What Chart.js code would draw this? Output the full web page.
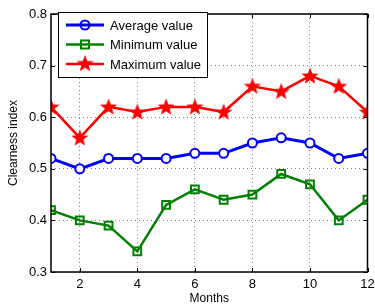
<!DOCTYPE html>
<html lang="en">
<head>
	<title>Clearness index by month</title>
	<meta charset="utf-8">
	<script src="https://cdn.jsdelivr.net/npm/chart.js@4.4.1/dist/chart.umd.min.js"></script>
	<style type="text/css">
		html, body { margin: 0; padding: 0; background: #fff; }
		#wrap { width: 375px; height: 308px; }
	</style>
</head>
<body>
<div id="wrap"><canvas id="ci-canvas" width="375" height="308"></canvas></div>
<script type="text/javascript">
	// data
	var months = [1, 2, 3, 4, 5, 6, 7, 8, 9, 10, 11, 12];
	var avgValues = [0.52, 0.50, 0.52, 0.52, 0.52, 0.53, 0.53, 0.55, 0.56, 0.55, 0.52, 0.53];
	var minValues = [0.42, 0.40, 0.39, 0.34, 0.43, 0.46, 0.44, 0.45, 0.49, 0.47, 0.40, 0.44];
	var maxValues = [0.62, 0.56, 0.62, 0.61, 0.62, 0.62, 0.61, 0.66, 0.65, 0.68, 0.66, 0.61];
	var xTicks = [2, 4, 6, 8, 10, 12];
	var yTicks = [0.3, 0.4, 0.5, 0.6, 0.7, 0.8];
	var seriesNames = ["Average value", "Minimum value", "Maximum value"];

	var FONT = "'Liberation Sans', Arial, sans-serif";

	// filled five point star used as marker (matlab pentagram)
	function makeStar(size, color) {
		var c = document.createElement("canvas");
		c.width = size; c.height = size;
		var g = c.getContext("2d");
		var cx = size / 2, cy = size / 2 + 0.5, R = size / 2, r = R * 0.42;
		g.beginPath();
		for (var i = 0; i < 10; i++) {
			var rad = (i % 2 == 0) ? R : r;
			var a = -Math.PI / 2 + i * Math.PI / 5;
			var px = cx + rad * Math.cos(a), py = cy + rad * Math.sin(a);
			if (i == 0) g.moveTo(px, py); else g.lineTo(px, py);
		}
		g.closePath();
		g.fillStyle = color;
		g.fill();
		return c;
	}
	var starImg = makeStar(18, "#ff0000");

	function toXY(vals) {
		return vals.map(function(v, i) { return {x: months[i], y: v}; });
	}

	// box, inner ticks and legend like the matlab figure
	var matlabFrame = {
		id: "matlabFrame",
		afterDatasetsDraw: function(chart) {
			var ctx = chart.ctx, a = chart.chartArea;
			var xs = chart.scales.x, ys = chart.scales.y;
			ctx.save();
			ctx.strokeStyle = "#000";
			ctx.lineWidth = 1;
			ctx.beginPath();
			xTicks.forEach(function(t) {
				var px = Math.round(xs.getPixelForValue(t)) + 0.5;
				ctx.moveTo(px, a.bottom); ctx.lineTo(px, a.bottom - 4);
				ctx.moveTo(px, a.top); ctx.lineTo(px, a.top + 4);
			});
			yTicks.forEach(function(t) {
				var py = Math.round(ys.getPixelForValue(t)) + 0.5;
				ctx.moveTo(a.left, py); ctx.lineTo(a.left + 4, py);
				ctx.moveTo(a.right, py); ctx.lineTo(a.right - 4, py);
			});
			ctx.stroke();
			ctx.lineWidth = 1.5;
			ctx.strokeRect(a.left, a.top, a.right - a.left, a.bottom - a.top);

			// legend
			var lx = 58, ly = 12, lw = 149, lh = 65;
			ctx.fillStyle = "#fff";
			ctx.fillRect(lx, ly, lw, lh);
			ctx.lineWidth = 1;
			ctx.strokeRect(lx + 0.5, ly + 0.5, lw, lh);
			ctx.font = "13px " + FONT;
			ctx.textBaseline = "middle";
			chart.data.datasets.forEach(function(ds, i) {
				var y = ly + 13 + i * 19.5;
				ctx.strokeStyle = ds.borderColor;
				ctx.lineWidth = ds.borderWidth;
				ctx.beginPath();
				ctx.moveTo(lx + 8, y); ctx.lineTo(lx + 46, y);
				ctx.stroke();
				var mx = lx + 27;
				ctx.lineWidth = 2;
				if (ds.pointStyle == "circle") {
					ctx.beginPath(); ctx.arc(mx, y, 4.5, 0, Math.PI * 2); ctx.stroke();
				} else if (ds.pointStyle == "rect") {
					ctx.strokeRect(mx - 4, y - 4, 8, 8);
				} else {
					ctx.drawImage(ds.pointStyle, mx - 9, y - 9.5);
				}
				ctx.fillStyle = "#000";
				ctx.fillText(ds.label, lx + 52, y + 1);
			});
			ctx.restore();
		}
	};

	var ctx = document.querySelector("#ci-canvas").getContext("2d");
	new Chart(ctx, {
		type: "line",
		data: {
			datasets: [{
				label: seriesNames[0],
				data: toXY(avgValues),
				borderColor: "#0000ff",
				backgroundColor: "#fff",
				borderWidth: 3,
				pointStyle: "circle",
				pointRadius: 4.5,
				pointBorderWidth: 2,
				tension: 0
			}, {
				label: seriesNames[1],
				data: toXY(minValues),
				borderColor: "#008000",
				backgroundColor: "rgba(0,0,0,0)",
				borderWidth: 2.5,
				pointStyle: "rect",
				pointRadius: 5.5,
				pointBorderWidth: 2,
				tension: 0
			}, {
				label: seriesNames[2],
				data: toXY(maxValues),
				borderColor: "#ff0000",
				backgroundColor: "#ff0000",
				borderWidth: 2.5,
				pointStyle: starImg,
				tension: 0
			}]
		},
		options: {
			responsive: false,
			animation: false,
			layout: { padding: { top: 14, right: 5, bottom: 0, left: 0 } },
			plugins: {
				legend: { display: false },
				tooltip: { enabled: false }
			},
			scales: {
				x: {
					type: "linear",
					min: 1,
					max: 12,
					afterBuildTicks: function(scale) {
						scale.ticks = xTicks.map(function(v) { return {value: v}; });
					},
					afterFit: function(scale) {
						scale.height = 36;
						scale.paddingLeft = 0;
						scale.paddingRight = 0;
					},
					grid: {
						drawTicks: false,
						color: "#888",
						lineWidth: 1
					},
					border: { display: false, dash: [1, 3] },
					ticks: {
						padding: 5,
						maxRotation: 0,
						color: "#000",
						font: { family: FONT, size: 13 }
					},
					title: {
						display: true,
						text: "Months",
						color: "#000",
						padding: { top: 0, bottom: 2 },
						font: { family: FONT, size: 12 }
					}
				},
				y: {
					min: 0.3,
					max: 0.8,
					afterBuildTicks: function(scale) {
						scale.ticks = yTicks.map(function(v) { return {value: v}; });
					},
					afterFit: function(scale) {
						scale.width = 51;
					},
					grid: {
						drawTicks: false,
						color: "#888",
						lineWidth: 1
					},
					border: { display: false, dash: [1, 3] },
					ticks: {
						padding: 4,
						color: "#000",
						font: { family: FONT, size: 13 },
						callback: function(v) { return v.toFixed(1); }
					},
					title: {
						display: true,
						text: "Clearness index",
						color: "#000",
						padding: { top: 6, bottom: 0 },
						font: { family: FONT, size: 12 }
					}
				}
			}
		},
		plugins: [matlabFrame]
	});
</script>
</body>
</html>
